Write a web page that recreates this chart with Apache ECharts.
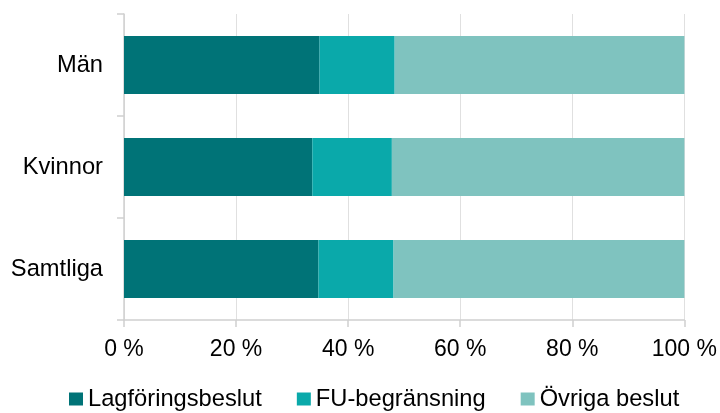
<!DOCTYPE html>
<html>
<head>
<meta charset="utf-8">
<script src="https://cdn.jsdelivr.net/npm/echarts@6/dist/echarts.min.js"></script>
<style>
  html, body { margin: 0; padding: 0; background: #fff; }
  #chart { width: 720px; height: 413px; }
</style>
</head>
<body>
<div id="chart"></div>
<script>
// kategorier, uppifrån och ned
var groups = ['Män', 'Kvinnor', 'Samtliga'];
var seriesNames = ['Lagföringsbeslut', 'FU-begränsning', 'Övriga beslut'];
var colors = ['#007377', '#0aa9aa', '#7fc3bf'];
// andelar i procent
var lagforing = [34.9, 33.6, 34.7];
var fuBegr = [13.4, 14.2, 13.4];
var ovriga = [51.7, 52.2, 51.9];
var xTicks = [0, 20, 40, 60, 80, 100];

var values = [lagforing, fuBegr, ovriga];
var font = '"Liberation Sans", Arial, sans-serif';

var myChart = echarts.init(document.getElementById('chart'));

var series = [];
for (var i = 0; i < seriesNames.length; i++) {
    series.push({
        name: seriesNames[i],
        type: 'bar',
        stack: 'total',
        barWidth: '57%',
        itemStyle: { color: colors[i] },
        data: values[i]
    });
}

var option = {
    animation: false,
    grid: { left: 124, right: 35, top: 14, bottom: 93 },
    legend: {
        top: 387,
        left: 69,
        padding: 0,
        itemWidth: 14,
        itemHeight: 13,
        itemGap: 35,
        icon: 'rect',
        textStyle: { fontFamily: font, fontSize: 23.7, color: '#000' },
        data: seriesNames
    },
    xAxis: {
        type: 'value',
        min: xTicks[0],
        max: xTicks[xTicks.length - 1],
        interval: 20,
        axisLine: { show: true, lineStyle: { color: '#d0d0d0', width: 1.5 } },
        axisTick: { show: true, length: 7, lineStyle: { color: '#d0d0d0', width: 1.5 } },
        splitLine: { show: true, lineStyle: { color: '#e0e0e0', width: 1 } },
        axisLabel: {
            fontFamily: font, fontSize: 23, color: '#000', margin: 18,
            formatter: function (v) { return v + ' %'; }
        }
    },
    yAxis: {
        type: 'category',
        inverse: true,
        data: groups,
        axisLine: { show: true, lineStyle: { color: '#d0d0d0', width: 1.5 } },
        axisTick: { show: true, length: 7, lineStyle: { color: '#d0d0d0', width: 1.5 } },
        axisLabel: { fontFamily: font, fontSize: 23.7, color: '#000', margin: 21, padding: [4, 0, 0, 0] }
    },
    series: series
};

myChart.setOption(option);
</script>
</body>
</html>
